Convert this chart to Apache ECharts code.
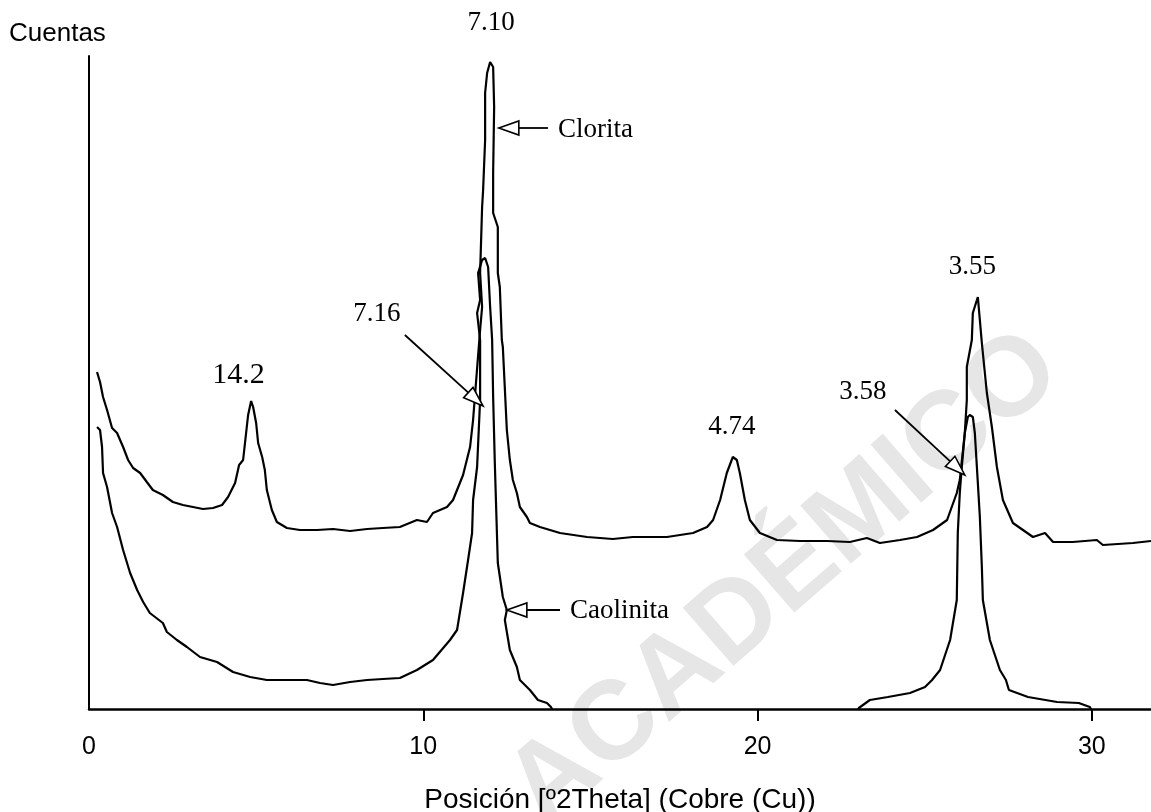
<!DOCTYPE html>
<html><head><meta charset="utf-8">
<script src="https://cdn.jsdelivr.net/npm/echarts@6/dist/echarts.min.js"></script>
<style>html,body{margin:0;padding:0;background:#fff}#c{width:1151px;height:812px}</style>
</head><body><div id="c"></div>
<script>
// x tick labels (º2Theta)
const xTickValues = [0, 10, 20, 30];

// Clorita pattern: [º2Theta, counts]
const cloritaData = [[0.24,337],[0.33,327],[0.42,312],[0.54,299],[0.69,281],[0.84,276],[1.02,262],[1.17,249],[1.32,241],[1.53,236],[1.73,227],[1.91,219],[2.21,214],[2.51,207],[2.81,204],[3.11,202],[3.41,200],[3.71,201],[3.98,204],[4.16,212],[4.37,226],[4.49,244],[4.61,249],[4.70,276],[4.76,294],[4.85,308],[4.91,302],[5.00,286],[5.06,266],[5.18,252],[5.26,239],[5.32,219],[5.47,199],[5.62,187],[5.92,181],[6.31,179],[6.82,179],[7.30,180],[7.81,178],[8.32,180],[8.79,181],[9.30,182],[9.81,189],[10.11,187],[10.29,196],[10.71,202],[10.89,209],[11.19,234],[11.40,262],[11.49,289],[11.70,379],[11.76,402],[11.70,436],[11.73,469],[11.76,502],[11.79,519],[11.85,569],[11.85,616],[11.91,636],[12.00,647],[12.09,642],[12.12,602],[12.09,536],[12.09,496],[12.23,482],[12.23,436],[12.29,422],[12.35,369],[12.38,362],[12.50,279],[12.59,249],[12.68,229],[12.80,216],[12.89,202],[13.10,192],[13.19,186],[13.49,182],[14.09,176],[14.90,172],[15.67,170],[16.27,172],[17.29,172],[18.07,176],[18.49,182],[18.67,189],[18.88,209],[19.08,236],[19.26,252],[19.38,249],[19.47,236],[19.62,209],[19.77,189],[20.07,176],[20.58,169],[21.27,168],[22.08,168],[22.76,167],[23.27,171],[23.66,166],[24.26,169],[24.77,172],[25.25,179],[25.67,189],[25.96,216],[26.05,229],[26.20,276],[26.26,309],[26.26,342],[26.41,369],[26.44,396],[26.59,412],[26.65,389],[26.71,366],[26.86,316],[27.01,282],[27.16,242],[27.34,209],[27.64,186],[28.24,172],[28.60,176],[28.84,167],[29.43,167],[30.15,169],[30.33,164],[31.23,166],[31.77,168]];

// Caolinita pattern: [º2Theta, counts] (dips below the axis where it is hidden)
const caolinitaData = [[0.24,282],[0.33,279],[0.39,262],[0.42,236],[0.54,222],[0.69,196],[0.84,182],[1.02,159],[1.23,136],[1.44,119],[1.62,107],[1.82,96],[2.21,86],[2.33,77],[2.63,69],[2.93,62],[3.32,52],[3.83,47],[4.31,37],[4.82,32],[5.32,29],[5.80,29],[6.52,29],[6.91,26],[7.30,24],[7.81,27],[8.32,29],[8.79,30],[9.30,31],[9.81,39],[10.29,49],[10.80,69],[11.01,79],[11.19,116],[11.34,149],[11.46,176],[11.49,209],[11.61,242],[11.70,309],[11.70,369],[11.61,396],[11.70,409],[11.64,436],[11.76,449],[11.85,451],[11.94,442],[12.00,402],[12.06,369],[12.09,312],[12.14,246],[12.23,146],[12.38,112],[12.50,99],[12.44,89],[12.59,59],[12.80,42],[12.89,29],[13.19,19],[13.43,9],[13.70,6],[13.82,2],[14.09,-16],[22.76,-16],[23.03,1],[23.36,9],[23.90,12],[24.56,16],[25.01,22],[25.22,29],[25.46,39],[25.76,69],[25.96,109],[25.99,176],[26.05,216],[26.11,242],[26.20,276],[26.29,292],[26.35,294],[26.44,292],[26.50,276],[26.59,226],[26.65,192],[26.71,142],[26.74,109],[26.95,69],[27.25,39],[27.43,29],[27.52,19],[28.09,12],[28.96,7],[29.61,6],[29.94,2],[30.24,-16],[31.77,-16]];

// d-spacing peak labels, anchored in data units
const peakLabelText = ['14.2', '7.10', '4.74', '3.55', '7.16', '3.58'];
const peakLabelAt = [[4.47,334],[12.03,686],[19.23,282],[26.43,442],[8.61,395],[23.15,317]];

// arrows [from, to] in data units and their names
const arrowText = ['Clorita', 'Caolinita', '', ''];
const arrowFrom = [[13.73,581],[14.09,99],[9.45,374],[24.11,299]];
const arrowTo   = [[12.26,581],[12.50,99],[11.79,303],[26.20,234]];
const arrowTextAt = [[14.03,579],[14.39,98],null,null];

const chart = echarts.init(document.getElementById('c'), null, {renderer: 'canvas'});
const serif = 'Liberation Serif, Times New Roman, serif';
const sans = 'Liberation Sans, Arial, sans-serif';

chart.setOption({
  animation: false,
  backgroundColor: '#fff',
  title: {text: 'Cuentas', left: 9, top: 21, padding: 0,
    textStyle: {fontFamily: sans, fontSize: 26, fontWeight: 'normal', color: '#000'}},
  grid: {left: 89, right: 0, top: 56, bottom: 103, containLabel: false, outerBoundsMode: 'none'},
  xAxis: {
    type: 'value', min: 0, max: 31.77, interval: 10,
    name: 'Posición [º2Theta] (Cobre (Cu))', nameLocation: 'middle', nameGap: 77,
    nameTextStyle: {fontFamily: sans, fontSize: 28, color: '#000'},
    axisLine: {show: true, onZero: false, lineStyle: {color: '#000', width: 2.5}},
    axisTick: {show: true, length: 12, lineStyle: {color: '#000', width: 2},
      customValues: xTickValues.filter(v => v > 0)},
    axisLabel: {customValues: xTickValues, margin: 26, fontFamily: sans, fontSize: 25, color: '#000',
      formatter: v => String(v)},
    splitLine: {show: false}
  },
  yAxis: {
    type: 'value', min: 0, max: 653,
    axisLine: {show: true, lineStyle: {color: '#000', width: 2}},
    axisTick: {show: false}, axisLabel: {show: false}, splitLine: {show: false}
  },
  series: [
    {name: 'Clorita', type: 'line', data: cloritaData, showSymbol: false, symbol: 'none',
      clip: true, lineStyle: {color: '#000', width: 2.2}, z: 5},
    {name: 'Caolinita', type: 'line', data: caolinitaData, showSymbol: false, symbol: 'none',
      clip: true, lineStyle: {color: '#000', width: 2.2}, z: 5}
  ]
});

function px(p) { return chart.convertToPixel({gridIndex: 0}, p); }
const g = [];
// watermark
g.push({type: 'text', x: 785, y: 580, rotation: 41 * Math.PI / 180, z: -10, silent: true,
  style: {text: 'ACADÉMICO', fontFamily: sans, fontWeight: 'bold', fontSize: 112,
    fill: '#e6e6e6', align: 'center', verticalAlign: 'middle'}});
peakLabelText.forEach((t, i) => {
  const p = px(peakLabelAt[i]);
  g.push({type: 'text', x: p[0], y: p[1], z: 20,
    style: {text: t, fontFamily: serif, fontSize: i === 0 ? 30 : 27, fill: '#000',
      align: 'center', verticalAlign: 'middle'}});
});
arrowFrom.forEach((f, i) => {
  const p0 = px(f), p1 = px(arrowTo[i]);
  const dx = p1[0] - p0[0], dy = p1[1] - p0[1], len = Math.hypot(dx, dy);
  const ux = dx / len, uy = dy / len, L = 20, W = 7;
  const bx = p1[0] - ux * L, by = p1[1] - uy * L;
  g.push({type: 'line', z: 20, shape: {x1: p0[0], y1: p0[1], x2: bx, y2: by},
    style: {stroke: '#000', lineWidth: 1.8}});
  g.push({type: 'polygon', z: 21,
    shape: {points: [[p1[0], p1[1]], [bx - uy * W, by + ux * W], [bx + uy * W, by - ux * W]]},
    style: {fill: '#fff', stroke: '#000', lineWidth: 1.6}});
  if (arrowText[i]) {
    const q = px(arrowTextAt[i]);
    g.push({type: 'text', x: q[0], y: q[1], z: 20,
      style: {text: arrowText[i], fontFamily: serif, fontSize: 27, fill: '#000',
        align: 'left', verticalAlign: 'middle'}});
  }
});
chart.setOption({graphic: {elements: g}});
</script>
</body></html>
